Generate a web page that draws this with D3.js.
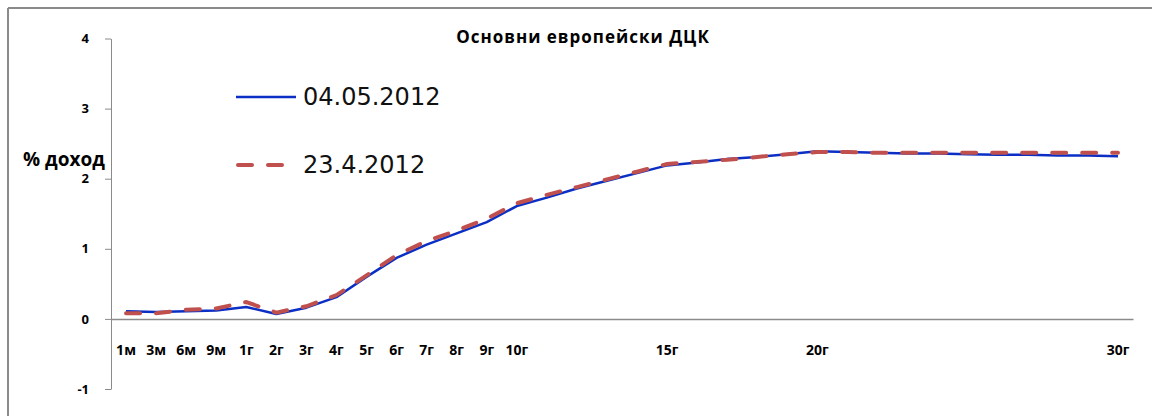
<!DOCTYPE html>
<html><head><meta charset="utf-8">
<script src="https://cdn.jsdelivr.net/npm/d3@7"></script>
<style>
body{margin:0;background:#fff;}
svg{display:block;}
</style></head>
<body>
<svg id="c" width="1152" height="416"></svg>
<script>
const categories = ["1м","3м","6м","9м","1г","2г","3г","4г","5г","6г","7г","8г","9г","10г",
  "11г","12г","13г","14г","15г","16г","17г","18г","19г","20г",
  "21г","22г","23г","24г","25г","26г","27г","28г","29г","30г"];
const shownLabels = ["1м","3м","6м","9м","1г","2г","3г","4г","5г","6г","7г","8г","9г","10г","15г","20г","30г"];
const series1Name = "04.05.2012";
const series1 = [0.11,0.10,0.11,0.12,0.17,0.07,0.16,0.31,0.60,0.87,1.06,1.22,1.38,1.61,
  1.73,1.86,1.97,2.08,2.19,2.23,2.28,2.31,2.35,2.39,
  2.38,2.37,2.36,2.36,2.35,2.34,2.34,2.33,2.33,2.32];
const series2Name = "23.4.2012";
const series2 = [0.08,0.08,0.13,0.15,0.24,0.09,0.18,0.34,0.62,0.91,1.11,1.26,1.43,1.65,
  1.77,1.88,1.99,2.10,2.21,2.24,2.27,2.31,2.35,2.38,
  2.38,2.37,2.37,2.37,2.37,2.37,2.37,2.37,2.37,2.37];
const yTicks = [-1,0,1,2,3,4];
const title = "Основни европейски ДЦК";
const yLabel = "% доход";

const svg = d3.select("#c");
const grey = "#8a8a8a";
const boldFont = "'Open Sans', Lato, sans-serif";

// outer frame (top and left visible)
svg.append("line").attr("x1",8).attr("y1",8).attr("x2",1152).attr("y2",8).attr("stroke",grey).attr("stroke-width",2);
svg.append("line").attr("x1",8).attr("y1",8).attr("x2",8).attr("y2",416).attr("stroke",grey).attr("stroke-width",2);

const x = d3.scaleBand().domain(categories).range([111,1133]).padding(0);
const y = d3.scaleLinear().domain([-1,4]).range([389,38.5]);
const cx = c => x(c) + x.bandwidth()/2;

// y axis
const yAxis = svg.append("g").attr("transform","translate(111,0)")
  .call(d3.axisLeft(y).tickValues(yTicks).tickSize(6).tickSizeOuter(0).tickPadding(16).tickFormat(d => String(d)));
yAxis.select(".domain").attr("stroke",grey);
yAxis.selectAll(".tick line").attr("stroke",grey);
yAxis.selectAll("text").attr("fill","#000").style("font-family",boldFont)
  .style("font-weight","bold").style("font-size","13px");

// x axis at zero
const xAxis = svg.append("g").attr("transform",`translate(0,${y(0)})`)
  .call(d3.axisBottom(x).tickSize(0).tickSizeOuter(0).tickPadding(26)
    .tickFormat(d => shownLabels.includes(d) ? d : ""));
xAxis.select(".domain").attr("stroke",grey).attr("stroke-width",1.5);
xAxis.selectAll("text").attr("fill","#000").style("font-family",boldFont)
  .style("font-weight","bold").style("font-size","14px");

// lines
const line = d3.line().x((d,i) => cx(categories[i])).y(d => y(d));
svg.append("path").datum(series1).attr("d",line).attr("fill","none")
  .attr("stroke","#0b2fc4").attr("stroke-width",2.5).attr("stroke-linejoin","round");
svg.append("path").datum(series2).attr("d",line).attr("fill","none")
  .attr("stroke","#c0504d").attr("stroke-width",4).attr("stroke-linecap","round")
  .attr("stroke-dasharray","14,16");

// title
svg.append("text").attr("x",583).attr("y",43).attr("text-anchor","middle")
  .style("font-family",boldFont).style("font-weight","bold").style("font-size","17px")
  .style("letter-spacing","1px")
  .attr("fill","#000").text(title);

// y label
svg.append("text").attr("x",23).attr("y",166)
  .style("font-family",boldFont).style("font-weight","bold").style("font-size","19px")
  .attr("fill","#000").text(yLabel);

// legend
const legend = [{name:series1Name,color:"#0b2fc4",w:2.5,dash:null,y:97},
                {name:series2Name,color:"#c0504d",w:4,dash:"14,16",y:165}];
legend.forEach(l => {
  const ln = svg.append("line").attr("x1",236).attr("x2",296).attr("y1",l.y).attr("y2",l.y)
    .attr("stroke",l.color).attr("stroke-width",l.w);
  if (l.dash) ln.attr("stroke-dasharray","14,16").attr("stroke-linecap","round").attr("x1",238).attr("x2",288);
  svg.append("text").attr("x",303).attr("y",l.y+8)
    .style("font-family","'DejaVu Sans', sans-serif").style("font-size","24px")
    .attr("fill","#111").text(l.name);
});
</script>
</body></html>
